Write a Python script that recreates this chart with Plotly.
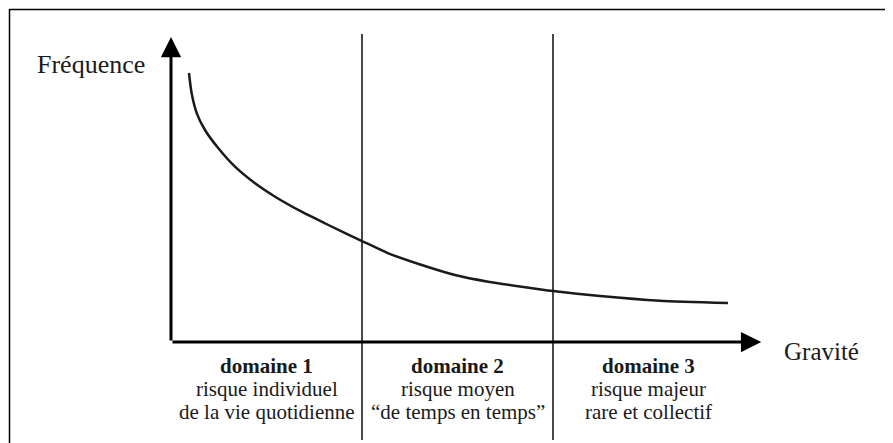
import plotly.graph_objects as go

# courbe fréquence / gravité (unités arbitraires)
gravite = [0.094, 0.108, 0.135, 0.178, 0.248, 0.335, 0.440, 0.545, 0.684,
           0.824, 1.0, 1.138, 1.313, 1.487, 1.661, 1.836, 2.0, 2.246, 2.56, 2.916]
frequence = [8.82, 8.154, 7.498, 6.951, 6.351, 5.748, 5.203, 4.764, 4.272,
             3.836, 3.311, 2.908, 2.525, 2.197, 1.977, 1.813, 1.672, 1.508, 1.354, 1.279]

limites_domaines = [1, 2]
centres_domaines = [0.5, 1.5, 2.5]
titres_domaines = ["domaine 1", "domaine 2", "domaine 3"]
risques = ["risque individuel", "risque moyen", "risque majeur"]
details = ["de la vie quotidienne", "\u201cde temps en temps\u201d", "rare et collectif"]

x_max = 3.09
y_max = 10

# la page html ajoute une marge de 8 px : on réduit la figure d'autant
OFF = 8
W, H = 893 - OFF, 443 - OFF
# origine des axes (pixels écran), pixels par unité
X0, XU = 171 - OFF, 191
Y0, YU = 342 - OFF, 30.5


def px_x(p):
    return (p - OFF - X0) / XU


def px_y(p):
    return (Y0 - (p - OFF)) / YU


FONT = "Liberation Serif"
INK = "#1a1a1a"

fig = go.Figure()

fig.add_trace(go.Scatter(x=gravite, y=frequence, mode="lines",
                         line=dict(color=INK, width=2.5, shape="spline", smoothing=0.6),
                         hoverinfo="skip", showlegend=False))

# séparateurs verticaux
for xl in limites_domaines:
    fig.add_shape(type="line", x0=xl, x1=xl, y0=px_y(440), y1=px_y(34),
                  line=dict(color=INK, width=1.6))

# axes avec flèches
for tip in [(0, y_max), (x_max, 0)]:
    fig.add_annotation(x=tip[0], y=tip[1], ax=0, ay=0, xref="x", yref="y", axref="x", ayref="y",
                       showarrow=True, arrowhead=2, arrowsize=1.35, arrowwidth=3,
                       arrowcolor="black", text="")

fig.add_annotation(x=px_x(91), y=px_y(64), text="Fréquence", showarrow=False,
                   font=dict(family=FONT, size=26, color=INK), xanchor="center", yanchor="middle")
fig.add_annotation(x=px_x(821), y=px_y(351), text="Gravité", showarrow=False,
                   font=dict(family=FONT, size=25, color=INK), xanchor="center", yanchor="middle")

rows = [366, 389, 412]
for i, xc in enumerate(centres_domaines):
    lignes = [(titres_domaines[i], "bold"), (risques[i], "normal"), (details[i], "normal")]
    for j, (txt, weight) in enumerate(lignes):
        fig.add_annotation(x=xc, y=px_y(rows[j]), text=txt, showarrow=False,
                           font=dict(family=FONT, size=21, color=INK, weight=weight),
                           xanchor="center", yanchor="middle")

# cadre (haut et gauche)
fig.add_shape(type="line", xref="paper", yref="paper", x0=1.5 / W, x1=1,
              y0=1 - 1.5 / H, y1=1 - 1.5 / H, line=dict(color="black", width=1.5))
fig.add_shape(type="line", xref="paper", yref="paper", x0=1.5 / W, x1=1.5 / W,
              y0=0, y1=1 - 1 / H, line=dict(color="black", width=1.5))

fig.update_xaxes(range=[-X0 / XU, (W - X0) / XU], visible=False, fixedrange=True)
fig.update_yaxes(range=[(Y0 - H) / YU, Y0 / YU], visible=False, fixedrange=True)
fig.update_layout(width=W, height=H, margin=dict(l=0, r=0, t=0, b=0),
                  paper_bgcolor="white", plot_bgcolor="white")

fig.write_html("out.html")
